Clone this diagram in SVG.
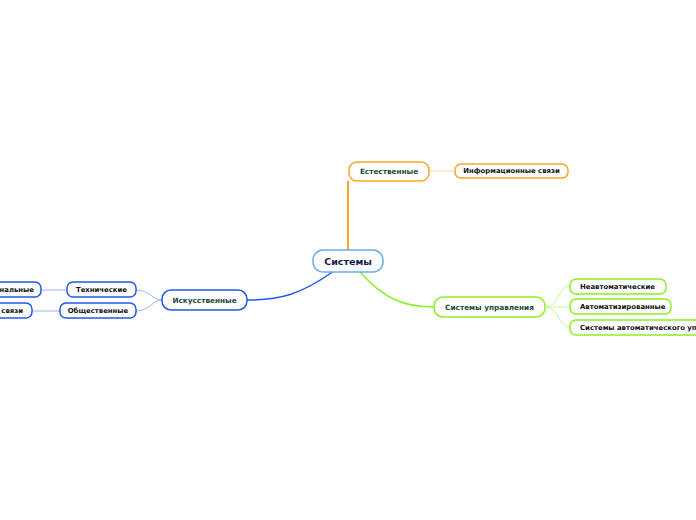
<svg xmlns="http://www.w3.org/2000/svg" width="696" height="520" viewBox="0 0 696 520">
<style>
.t{font-family:"DejaVu Sans","Verdana",sans-serif;font-weight:bold;text-anchor:middle;dominant-baseline:central}
.root{fill:#fff;stroke:#6aaee6;stroke-width:1.5}
.b{fill:#fff;stroke-width:1.5}
.or{stroke:#f8a526}
.bl{stroke:#2258ee}
.gr{stroke:#8cf022}
.c{fill:none}
</style>
<rect width="696" height="520" fill="#fff"/>
<g id="connectors">
<path class="c" d="M348,250 V181" stroke="#f8a526" stroke-width="2"/>
<path class="c" d="M429,171 H455" stroke="#fcd49a" stroke-width="1"/>
<path class="c" d="M334,271 C300,295 280,300 247,300" stroke="#2258ee" stroke-width="1.5"/>
<path class="c" d="M162,300 C152,300 150,290 136,290" stroke="#9bb4f0" stroke-width="1"/>
<path class="c" d="M162,300 C152,300 150,311 136,311" stroke="#9bb4f0" stroke-width="1"/>
<path class="c" d="M67,290 H41" stroke="#9bb4f0" stroke-width="1"/>
<path class="c" d="M60,311 H32" stroke="#9bb4f0" stroke-width="1"/>
<path class="c" d="M360,272 C385,300 405,307 434,307" stroke="#8cf022" stroke-width="1.5"/>
<path class="c" d="M545,307 C560,307 557,286 570,286" stroke="#c6f59a" stroke-width="1"/>
<path class="c" d="M545,307 H570" stroke="#c6f59a" stroke-width="1"/>
<path class="c" d="M545,307 C560,307 557,327 570,327" stroke="#c6f59a" stroke-width="1"/>
</g>
<g id="n-systems"><rect class="root" x="313" y="250" width="70" height="22" rx="10"/><text class="t" x="348" y="261" font-size="9.5" fill="#161a48">Системы</text></g>
<g id="n-natural"><rect class="b or" x="349" y="162" width="80" height="19" rx="8"/><text class="t" x="389" y="171.5" font-size="7.3" fill="#1a4a3c">Естественные</text></g>
<g id="n-info"><rect class="b or" x="455" y="164" width="113" height="14" rx="6"/><text class="t" x="511.5" y="171" font-size="6.9" fill="#111">Информационные связи</text></g>
<g id="n-artificial"><rect class="b bl" x="162" y="290" width="85" height="20" rx="9"/><text class="t" x="204.5" y="300" font-size="7.3" fill="#1a4a3c">Искусственные</text></g>
<g id="n-tech"><rect class="b bl" x="67" y="282" width="69" height="15" rx="6"/><text class="t" x="101.5" y="289.5" font-size="6.9" fill="#111">Технические</text></g>
<g id="n-social"><rect class="b bl" x="60" y="303" width="76" height="15" rx="6"/><text class="t" x="98" y="310.5" font-size="6.9" fill="#111">Общественные</text></g>
<g id="n-func"><rect class="b bl" x="-40" y="282" width="81" height="15" rx="6"/><text class="t" x="34" y="289.5" font-size="6.9" fill="#111" style="text-anchor:end">нальные</text></g>
<g id="n-links"><rect class="b bl" x="-40" y="303" width="72" height="15" rx="6"/><text class="t" x="23" y="310.5" font-size="6.9" fill="#111" style="text-anchor:end">связи</text></g>
<g id="n-control"><rect class="b gr" x="434" y="297" width="111" height="20" rx="9"/><text class="t" x="489.5" y="307" font-size="7.3" fill="#1a4a3c">Системы управления</text></g>
<g id="n-nonauto"><rect class="b gr" x="570" y="279" width="96" height="15" rx="6"/><text class="t" x="580" y="286.5" font-size="6.9" fill="#111" style="text-anchor:start">Неавтоматические</text></g>
<g id="n-auto"><rect class="b gr" x="570" y="299" width="101" height="15" rx="6"/><text class="t" x="580" y="306.5" font-size="6.9" fill="#111" style="text-anchor:start">Автоматизированные</text></g>
<g id="n-acs"><rect class="b gr" x="570" y="320" width="160" height="15" rx="6"/><text class="t" x="580" y="327.5" font-size="6.9" fill="#111" style="text-anchor:start">Системы автоматического управления</text></g>
</svg>
